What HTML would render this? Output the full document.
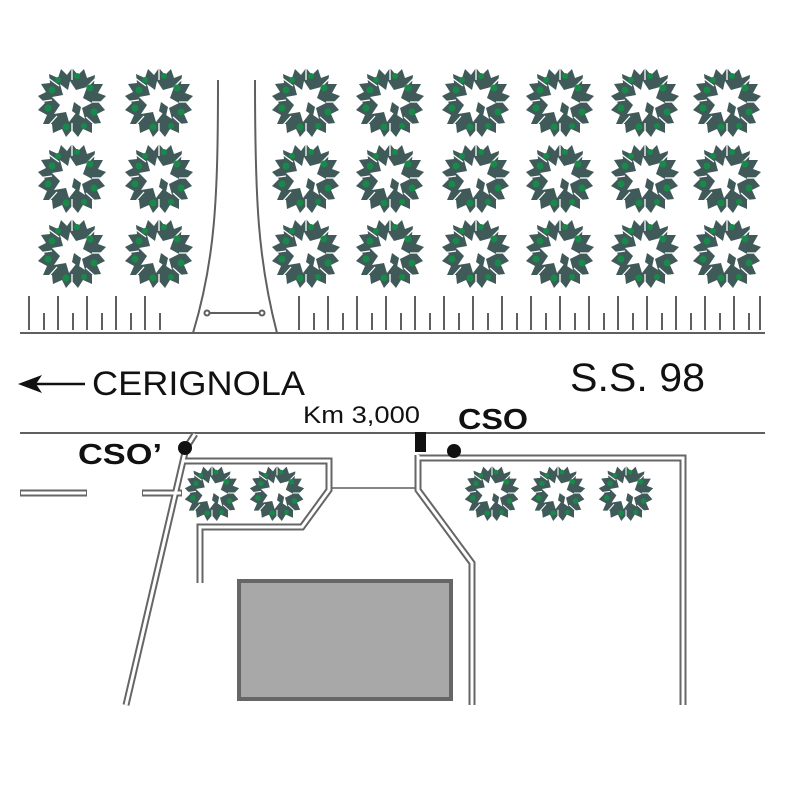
<!DOCTYPE html>
<html><head><meta charset="utf-8"><style>body{margin:0;background:#fff}svg{display:block}</style></head><body>
<svg width="788" height="788" viewBox="0 0 788 788" xmlns="http://www.w3.org/2000/svg" font-family="Liberation Sans, sans-serif">
<defs>
<g id="tree">
<polygon fill="#3f5a58" points="0,-34 6,-27 12,-33 15,-24 23,-27 22,-18 31,-18 26,-9 34,-6 27,1 33,8 25,12 29,21 20,22 20,31 11,27 6,35 0,28 -6,35 -10,27 -19,31 -20,22 -29,22 -25,13 -34,8 -27,1 -34,-6 -26,-10 -31,-18 -22,-19 -23,-28 -14,-24 -11,-33 -5,-27"/>
<polygon fill="#fff" points="-2,-21 4,-12 15,-15 11,-4 20,1 10,6 13,17 4,11 -3,20 -6,10 -18,12 -12,3 -20,-5 -9,-7 -12,-18 -4,-12"/>
<polygon fill="#3f5a58" points="2,0 9,5 7,14 0,9"/>
<g stroke="#fff" stroke-width="1.3">
<line x1="0" y1="-34" x2="0" y2="-22"/><line x1="24" y1="-24" x2="15" y2="-15"/><line x1="34" y1="0" x2="20" y2="0"/><line x1="24" y1="24" x2="14" y2="15"/><line x1="0" y1="34" x2="0" y2="21"/><line x1="-24" y1="24" x2="-15" y2="14"/><line x1="-34" y1="0" x2="-20" y2="-2"/><line x1="-24" y1="-24" x2="-13" y2="-16"/>
</g>
<circle cx="-20" cy="-12" r="3.5" fill="#178a4a"/><circle cx="18" cy="-14" r="3.5" fill="#178a4a"/>
<circle cx="-24" cy="6" r="3.5" fill="#178a4a"/><circle cx="22" cy="10" r="3.5" fill="#178a4a"/>
<circle cx="5" cy="-26" r="3" fill="#178a4a"/><circle cx="-6" cy="25" r="3.5" fill="#178a4a"/>
<circle cx="12" cy="24" r="3" fill="#178a4a"/><circle cx="-14" cy="-22" r="3" fill="#178a4a"/>
</g>
</defs>
<g>
<use href="#tree" x="72" y="102"/><use href="#tree" x="159" y="102"/>
<use href="#tree" x="306" y="102"/><use href="#tree" x="390" y="102"/><use href="#tree" x="476" y="102"/><use href="#tree" x="560" y="102"/><use href="#tree" x="645" y="102"/><use href="#tree" x="727" y="102"/>
<use href="#tree" x="72" y="178"/><use href="#tree" x="159" y="178"/>
<use href="#tree" x="306" y="178"/><use href="#tree" x="390" y="178"/><use href="#tree" x="476" y="178"/><use href="#tree" x="560" y="178"/><use href="#tree" x="645" y="178"/><use href="#tree" x="727" y="178"/>
<use href="#tree" x="72" y="253"/><use href="#tree" x="159" y="253"/>
<use href="#tree" x="306" y="253"/><use href="#tree" x="390" y="253"/><use href="#tree" x="476" y="253"/><use href="#tree" x="560" y="253"/><use href="#tree" x="645" y="253"/><use href="#tree" x="727" y="253"/>
<g transform="translate(212,493) scale(0.8)"><use href="#tree"/></g>
<g transform="translate(277,493) scale(0.8)"><use href="#tree"/></g>
<g transform="translate(492,493) scale(0.8)"><use href="#tree"/></g>
<g transform="translate(558,493) scale(0.8)"><use href="#tree"/></g>
<g transform="translate(626,493) scale(0.8)"><use href="#tree"/></g>
</g>
<g stroke="#5f5f5f" stroke-width="2" fill="none">
<line x1="20" y1="333" x2="765" y2="333"/>
<line x1="20" y1="433" x2="765" y2="433"/>
<path d="M218,80 C218,200 215,260 193,333"/>
<path d="M255,80 C255,200 258,260 277,333"/>
<line x1="207" y1="313" x2="262" y2="313"/>
<circle cx="207" cy="313" r="2.5" fill="#fff"/><circle cx="262" cy="313" r="2.5" fill="#fff"/>
<path d="M29,330V296M44,330V313M58,330V296M73,330V313M87,330V296M102,330V313M116,330V296M131,330V313M145,330V296M160,330V313"/>
<path d="M299,330V296M314,330V313M328,330V296M343,330V313M357,330V296M372,330V313M386,330V296M401,330V313M415,330V296M430,330V313M444,330V296M459,330V313M473,330V296M488,330V313M502,330V296M517,330V313M531,330V296M546,330V313M560,330V296M575,330V313M589,330V296M604,330V313M618,330V296M633,330V313M647,330V296M662,330V313M676,330V296M691,330V313M705,330V296M720,330V313M734,330V296M749,330V313M760,330V296"/>
<line x1="332" y1="488" x2="415" y2="488" stroke-width="1.5"/>
</g>
<g fill="none" stroke-linejoin="miter">
<g stroke="#666" stroke-width="7">
<path d="M195,434 L186,448 L126,705"/>
<path d="M183,461 L329,461 L329,490 L302,527 L200,527 L200,583"/>
<path d="M418,455 L418,490 L472,563 L472,705"/>
<path d="M418,458 L683,458 L683,705"/>
<path d="M20,493 H87 M142,493 H182"/>
</g>
<g stroke="#fff" stroke-width="3">
<path d="M195,434 L186,448 L126,705"/>
<path d="M183,461 L329,461 L329,490 L302,527 L200,527 L200,583"/>
<path d="M418,455 L418,490 L472,563 L472,705"/>
<path d="M418,458 L683,458 L683,705"/>
<path d="M21,493 H86 M143,493 H181"/>
</g>
</g>
<rect x="239" y="581" width="212" height="118" fill="#a8a8a8" stroke="#666" stroke-width="4"/>
<rect x="415" y="432" width="11" height="20" fill="#111"/>
<circle cx="454" cy="451" r="7" fill="#111"/>
<circle cx="185" cy="448" r="7" fill="#111"/>
<line x1="35" y1="384" x2="85" y2="384" stroke="#111" stroke-width="2.5"/>
<polygon points="18,384 42,375 36,384 42,393" fill="#111"/>
<text x="92" y="395" font-size="34" fill="#111" textLength="213" lengthAdjust="spacingAndGlyphs">CERIGNOLA</text>
<text x="570" y="391" font-size="40" fill="#111" textLength="135" lengthAdjust="spacingAndGlyphs">S.S. 98</text>
<text x="303" y="423" font-size="24" fill="#111" textLength="117" lengthAdjust="spacingAndGlyphs">Km 3,000</text>
<text x="458" y="429" font-size="29" font-weight="bold" fill="#111" textLength="70" lengthAdjust="spacingAndGlyphs">CSO</text>
<text x="78" y="464" font-size="29" font-weight="bold" fill="#111" textLength="84" lengthAdjust="spacingAndGlyphs">CSO’</text>
</svg>
</body></html>
